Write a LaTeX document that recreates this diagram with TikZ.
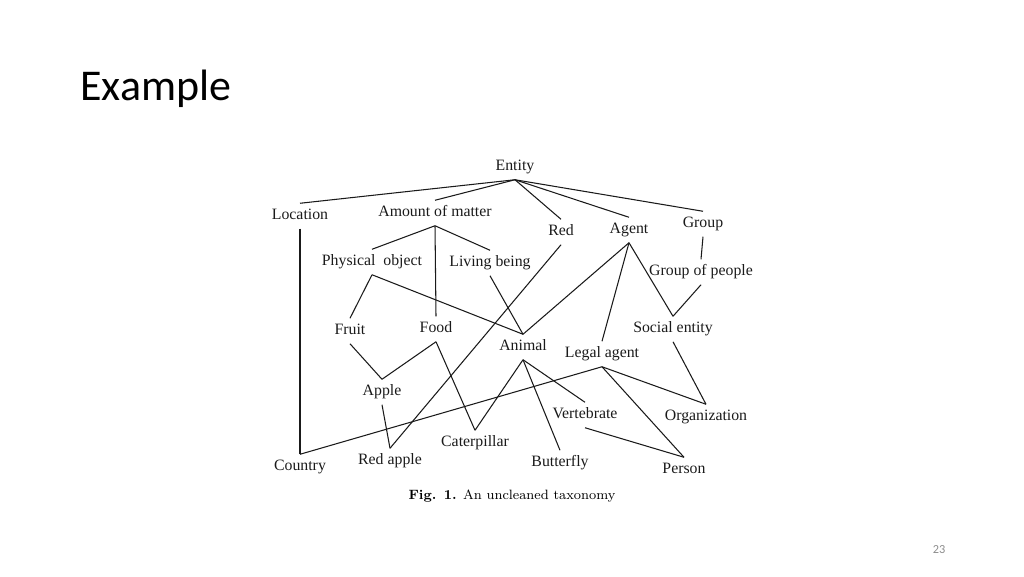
\documentclass[tikz,border=0pt]{standalone}
\usepackage{fontspec}
\usepackage{tikz}
\usepackage{xcolor}
\usetikzlibrary{positioning}
\newfontfamily\slidefont{Carlito}
\newfontfamily\timesfont{Liberation Serif}
\definecolor{ink}{HTML}{1A1A1A}
\definecolor{pagegray}{HTML}{8C8C8C}
\tikzset{
  concept/.style={inner xsep=1pt,inner ysep=3pt,text height=6.3pt,text depth=1.8pt,
                  font=\timesfont\fontsize{9}{10}\selectfont,text=ink},
  isa/.style={draw=ink,line width=0.6pt}
}
\begin{document}
\begin{tikzpicture}[x=0.02cm,y=-0.02cm]
  \useasboundingbox (0,0) rectangle (1024,576);
  \node[anchor=base west,inner sep=0pt,font=\slidefont\fontsize{25}{30}\selectfont] (title) at (80,100) {Example};
  \node[font=\slidefont\fontsize{7}{8}\selectfont,text=pagegray] (pageno) at (939,550) {23};
  % taxonomy nodes
  \node[concept] (entity) at (515,167) {Entity};
  \node[concept] (location) at (300,216) {Location};
  \node[concept] (matter) at (435,213) {Amount of matter};
  \node[concept] (red) at (561,232) {Red};
  \node[concept] (agent) at (629,230) {Agent};
  \node[concept] (group) at (703,224) {Group};
  \node[concept] (physobj) at (372,262) {Physical\ \ object};
  \node[concept] (living) at (490,263) {Living being};
  \node[concept] (people) at (701,272) {Group of people};
  \node[concept] (fruit) at (350,331) {Fruit};
  \node[concept] (food) at (436,329) {Food};
  \node[concept] (animal) at (523,347) {Animal};
  \node[concept] (legal) at (602,354) {Legal agent};
  \node[concept] (social) at (673,329) {Social entity};
  \node[concept] (apple) at (382,392) {Apple};
  \node[concept] (vertebrate) at (585,415) {Vertebrate};
  \node[concept] (organization) at (706,417) {Organization};
  \node[concept] (caterpillar) at (475,443) {Caterpillar};
  \node[concept] (country) at (300,467) {Country};
  \node[concept] (redapple) at (390,461) {Red apple};
  \node[concept] (butterfly) at (560,463) {Butterfly};
  \node[concept] (person) at (684,470) {Person};
  % is-a links
  \foreach \a/\b in {entity/location,entity/matter,entity/red,entity/agent,entity/group,
                     matter/physobj,matter/living,matter/food,location/country,
                     physobj/fruit,physobj/animal,living/animal,red/redapple,
                     agent/animal,agent/legal,agent/social,group/people,people/social,
                     fruit/apple,food/apple,food/caterpillar,apple/redapple,
                     animal/caterpillar,animal/vertebrate,animal/butterfly,
                     legal/organization,legal/person,social/organization,vertebrate/person}
    \draw[isa] (\a.south) -- (\b.north);
  \draw[isa] (legal.south) -- (country.north);
  \node[font=\fontsize{7.7}{9}\selectfont] (caption) at (512,496) {\textbf{Fig. 1.} An uncleaned taxonomy};
\end{tikzpicture}
\end{document}
